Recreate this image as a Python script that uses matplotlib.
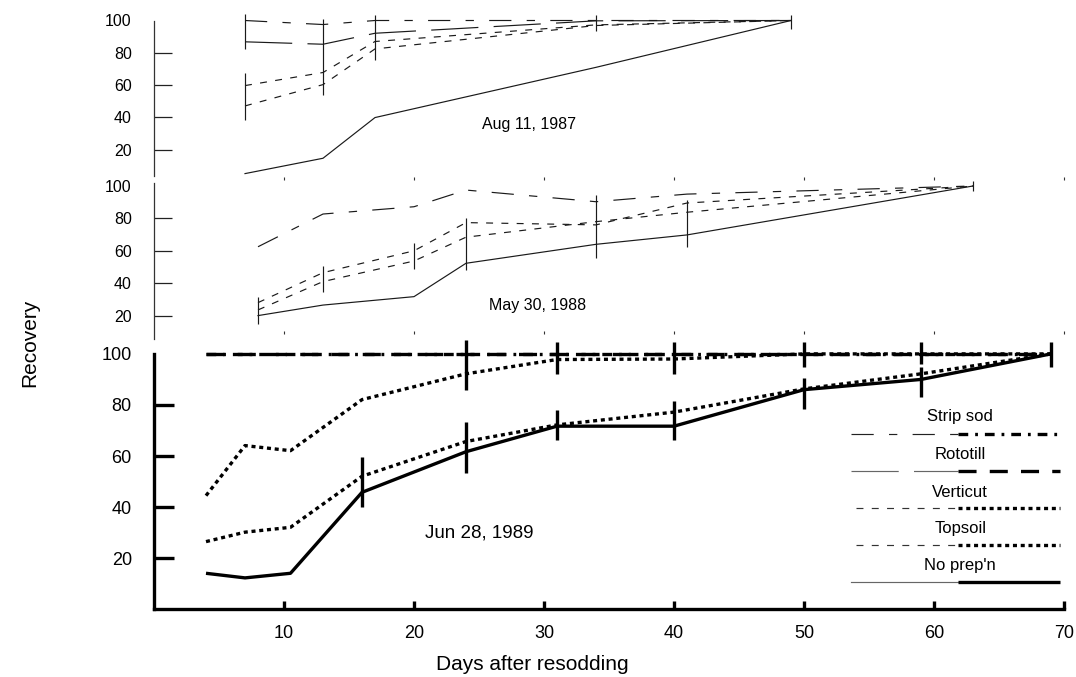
import matplotlib
matplotlib.use("Agg")
import matplotlib.pyplot as plt

plt.rcParams['font.family'] = ['Liberation Sans', 'DejaVu Sans']
plt.rcParams['lines.scale_dashes'] = False

# ---------------- data ----------------
series_names = ["Strip sod", "Rototill", "Verticut", "Topsoil", "No prep'n"]
x_ticks = [10, 20, 30, 40, 50, 60, 70]
x_tick_labels = ["10", "20", "30", "40", "50", "60", "70"]
y_ticks = [20, 40, 60, 80, 100]
y_tick_labels = ["20", "40", "60", "80", "100"]

# Aug 11, 1987
days_1987 = [7, 13, 17, 34, 49]
strip_1987 = [100, 97.5, 100, 100, 100]
roto_1987 = [86.8, 85.3, 92.1, 99.8, 100]
verti_1987 = [59.7, 67.8, 87.0, 97.3, 100]
topsoil_1987 = [47.1, 60.3, 82.4, 96.9, 100]
noprep_1987 = [5.2, 14.7, 39.9, 71.0, 100]
err_days_1987 = [7, 7, 13, 17, 34, 49]
err_lo_1987 = [82.2, 38.4, 54.0, 75.6, 93.2, 95.0]
err_hi_1987 = [104.0, 67.8, 101.0, 103.5, 103.5, 103.7]

# May 30, 1988
days_1988 = [8, 13, 20, 24, 34, 41, 63]
strip_1988 = [62.5, 82.7, 87.2, 97.5, 90.3, 95.0, 100]
verti_1988 = [28.0, 46.5, 60.0, 77.4, 76.0, 89.5, 100]
topsoil_1988 = [23.5, 41.0, 53.7, 68.4, 78.0, 83.8, 100]
noprep_1988 = [20.0, 26.5, 31.7, 52.3, 64.0, 69.8, 100]
err_days_1988 = [8, 13, 20, 24, 34, 41, 63]
err_lo_1988 = [14.8, 34.8, 48.6, 48.0, 55.4, 62.6, 97.0]
err_hi_1988 = [31.7, 50.8, 64.6, 80.0, 94.4, 91.4, 103.0]

# Jun 28, 1989
days_1989 = [4, 7, 10.5, 16, 24, 31, 40, 50, 59, 69]
strip_1989 = [100, 100, 100, 100, 100, 100, 100, 100, 100, 100]
roto_1989 = [100, 100, 100, 100, 100, 100, 100, 100, 100, 100]
verti_1989 = [44.5, 64.1, 62.1, 82.1, 92.2, 97.8, 98.0, 100, 100, 100]
topsoil_1989 = [26.5, 30.2, 32.1, 52.1, 65.7, 72.2, 77.2, 86.3, 92.2, 100]
noprep_1989 = [14.1, 12.3, 14.1, 45.8, 61.7, 71.7, 71.7, 86.0, 90.0, 100]
err_days_1989 = [16, 24, 24, 31, 31, 40, 40, 50, 50, 59, 59, 69]
err_lo_1989 = [40.0, 85.9, 53.3, 92.2, 66.4, 92.2, 66.4, 94.8, 78.5, 96.0, 83.0, 94.8]
err_hi_1989 = [59.5, 105.5, 73.2, 104.6, 78.2, 104.6, 81.5, 104.6, 90.5, 104.6, 94.8, 104.6]

# ---------------- styles ----------------
thin_style = {
    "Strip sod": dict(dashes=(16, 11, 6, 11), color="#1a1a1a"),
    "Rototill": dict(dashes=(34, 11), color="#1a1a1a"),
    "Verticut": dict(dashes=(5, 6), color="#1a1a1a"),
    "Topsoil": dict(dashes=(5, 6), color="#1a1a1a"),
    "No prep'n": dict(linestyle="-", color="#1a1a1a"),
}
legend_thin_color = {"Strip sod": "#222222", "Rototill": "#666666",
                     "Verticut": "#333333", "Topsoil": "#333333",
                     "No prep'n": "#666666"}
thick_style = {
    "Strip sod": dict(dashes=(7, 5, 2, 5)),
    "Rototill": dict(dashes=(13, 9.5)),
    "Verticut": dict(dashes=(2.9, 2.7)),
    "Topsoil": dict(dashes=(2.9, 2.7)),
    "No prep'n": dict(linestyle="-"),
}
THIN = 0.85
THICK = 2.4

W, H = 1076, 677
fig = plt.figure(figsize=(W / 100, H / 100), dpi=100)


def rect(px_left, px_right, py_zero, py_hundred):
    return [px_left / W, (H - py_zero) / H, (px_right - px_left) / W,
            (py_zero - py_hundred) / H]


ax_top = fig.add_axes(rect(154, 1064, 182, 20.5))
ax_mid = fig.add_axes(rect(154, 1064, 348, 186))
ax_bot = fig.add_axes(rect(154, 1064, 609.3, 353.9))

for ax in (ax_top, ax_mid, ax_bot):
    ax.set_xlim(0, 70)
    ax.set_ylim(0, 100)
    ax.patch.set_alpha(0)
    ax.spines['top'].set_visible(False)
    ax.spines['right'].set_visible(False)
    ax.set_yticks(y_ticks)
    ax.set_yticklabels(y_tick_labels)
    ax.set_xticks(x_ticks)

# --- small panels ---
small_panels = [
    (ax_top, days_1987, {"Strip sod": strip_1987, "Rototill": roto_1987,
                         "Verticut": verti_1987, "Topsoil": topsoil_1987,
                         "No prep'n": noprep_1987},
     err_days_1987, err_lo_1987, err_hi_1987, "Aug 11, 1987", (0.412, 0.353),
     (3.7, 100), 1.2),
    (ax_mid, days_1988, {"Strip sod": strip_1988, "Verticut": verti_1988,
                         "Topsoil": topsoil_1988, "No prep'n": noprep_1988},
     err_days_1988, err_lo_1988, err_hi_1988, "May 30, 1988", (0.422, 0.265),
     (5.6, 101.8), 8.6),
]
for ax, days, data, ed, elo, ehi, title, tpos, bounds, xpos in small_panels:
    for name, vals in data.items():
        ax.plot(days, vals, lw=THIN, clip_on=False, **thin_style[name])
    ax.vlines(ed, elo, ehi, color="#1a1a1a", lw=THIN, clip_on=False)
    ax.text(tpos[0], tpos[1], title, transform=ax.transAxes, ha='center',
            va='center', fontsize=11.5)
    ax.spines['left'].set_bounds(*bounds)
    ax.spines['left'].set_linewidth(0.9)
    ax.spines['left'].set_color('#333333')
    ax.spines['bottom'].set_position(('data', xpos))
    ax.spines['bottom'].set_visible(False)
    ax.tick_params(axis='y', direction='in', length=13, width=0.9,
                   color='#222222', pad=16, labelsize=11.5)
    ax.tick_params(axis='x', direction='in', length=2.2, width=0.8,
                   color='#333333', labelbottom=False)
    ax.yaxis.get_major_ticks()[-1].tick1line.set_visible(False)

# --- bottom panel ---
bot_data = {"Strip sod": strip_1989, "Rototill": roto_1989,
            "Verticut": verti_1989, "Topsoil": topsoil_1989,
            "No prep'n": noprep_1989}
for name, vals in bot_data.items():
    ax_bot.plot(days_1989, vals, lw=THICK, color='black', clip_on=False,
                dash_capstyle='butt', solid_capstyle='butt',
                **thick_style[name])
ax_bot.vlines(err_days_1989, err_lo_1989, err_hi_1989, color='black',
              lw=THICK, clip_on=False)
ax_bot.text(0.357, 0.299, "Jun 28, 1989", transform=ax_bot.transAxes,
            ha='center', va='center', fontsize=13.5)
ax_bot.spines['left'].set_bounds(0, 100)
ax_bot.spines['bottom'].set_bounds(0, 70)
for s in ('left', 'bottom'):
    ax_bot.spines[s].set_linewidth(THICK)
    ax_bot.spines[s].set_capstyle('projecting')
ax_bot.set_xticklabels(x_tick_labels)
ax_bot.tick_params(axis='y', direction='in', length=14.4, width=THICK,
                   pad=16, labelsize=13)
ax_bot.tick_params(axis='x', direction='in', length=5.5, width=THICK,
                   pad=11, labelsize=13)
ax_bot.yaxis.get_major_ticks()[-1].tick1line.set_visible(False)

# --- legend (label above a thin+thick sample line) ---
leg_text_y = [0.753, 0.608, 0.459, 0.318, 0.170]
leg_line_y = [0.687, 0.542, 0.397, 0.252, 0.107]
for i, name in enumerate(series_names):
    ax_bot.text(0.886, leg_text_y[i], name, transform=ax_bot.transAxes,
                ha='center', va='center', fontsize=12)
    x0 = 0.771 if name in ("Verticut", "Topsoil") else 0.766
    ax_bot.plot([x0, 0.883], [leg_line_y[i], leg_line_y[i]],
                transform=ax_bot.transAxes, lw=THIN,
                **{**thin_style[name], "color": legend_thin_color[name]},
                clip_on=False)
    ax_bot.plot([0.883, 0.996], [leg_line_y[i], leg_line_y[i]],
                transform=ax_bot.transAxes, lw=THICK, color='black',
                dash_capstyle='butt', solid_capstyle='butt', clip_on=False,
                **thick_style[name])

fig.text(30 / W, 1 - 343 / H, "Recovery", rotation=90, ha='center',
         va='center', fontsize=15)
fig.text(532 / W, 1 - 665 / H, "Days after resodding", ha='center',
         va='center', fontsize=15)

fig.savefig("out.png", dpi=100)
